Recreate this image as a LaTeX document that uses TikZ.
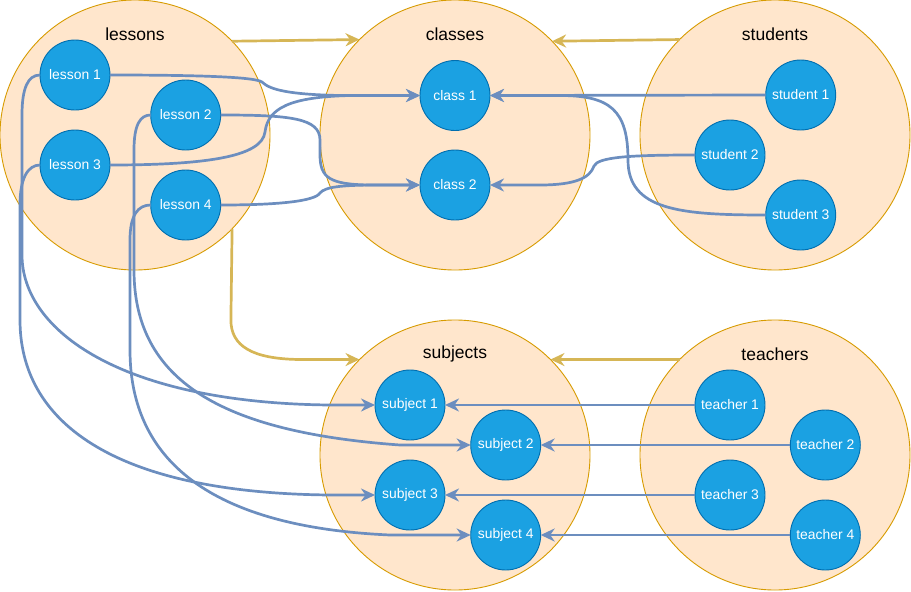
\documentclass[tikz,border=0pt]{standalone}
\usepackage{fontspec}
\setmainfont{Liberation Sans}
\usetikzlibrary{arrows.meta}

\definecolor{groupfill}{HTML}{FFE6CC}
\definecolor{groupline}{HTML}{D79B00}
\definecolor{itemfill}{HTML}{1BA1E2}
\definecolor{itemline}{HTML}{006EAF}
\definecolor{linkblue}{HTML}{6C8EBF}
\definecolor{linkgold}{HTML}{D6B656}

\tikzset{
  group/.style={circle, draw=groupline, fill=groupfill, line width=0.9pt,
    minimum size=270pt, inner sep=0pt, outer sep=0pt},
  grouplabel/.style={font=\fontsize{17.5}{20}\selectfont, text=black, inner sep=0pt},
  item/.style={circle, draw=itemline, fill=itemfill, line width=0.9pt,
    minimum size=70pt, inner sep=0pt, outer sep=0pt,
    font=\fontsize{13.9}{16}\selectfont, text=white},
  tip/.style={-{Stealth[length=14pt, width=13pt, inset=4.5pt]}},
  bluelink/.style={tip, draw=linkblue, line width=2.7pt, line join=round},
  goldlink/.style={tip, draw=linkgold, line width=2.7pt, line join=round},
}

\begin{document}
\begin{tikzpicture}[x=1pt, y=-1pt]
\useasboundingbox (0,0) rectangle (911,592);

% group circles
\node[group] (lessons)  at (135,135) {};
\node[group] (classes)  at (455,135) {};
\node[group] (students) at (775,135) {};
\node[group] (subjects) at (455,455) {};
\node[group] (teachers) at (775,455) {};

\node[grouplabel] (lessonsT)  at (135,34)  {lessons};
\node[grouplabel] (classesT)  at (455,34)  {classes};
\node[grouplabel] (studentsT) at (775,34)  {students};
\node[grouplabel] (subjectsT) at (455,354) {subjects};
\node[grouplabel] (teachersT) at (775,354) {teachers};

% items
\node[item] (l1) at (75,75)    {lesson 1};
\node[item] (l2) at (185.7,115) {lesson 2};
\node[item] (l3) at (75,165)   {lesson 3};
\node[item] (l4) at (185.7,205) {lesson 4};

\node[item] (c1) at (455,95.5) {class 1};
\node[item] (c2) at (455,185)  {class 2};

\node[item] (st1) at (800.7,95)  {student 1};
\node[item] (st2) at (730,155)   {student 2};
\node[item] (st3) at (800.7,215) {student 3};

\node[item] (s1) at (410,405)   {subject 1};
\node[item] (s2) at (505.7,445) {subject 2};
\node[item] (s3) at (410,495)   {subject 3};
\node[item] (s4) at (505.7,535) {subject 4};

\node[item] (t1) at (730,405)   {teacher 1};
\node[item] (t2) at (825.3,445) {teacher 2};
\node[item] (t3) at (730,495)   {teacher 3};
\node[item] (t4) at (825.3,535) {teacher 4};

% relations between the groups
\draw[goldlink] (lessons.44.7) -- (classes.135.3);
\draw[goldlink] (students.135.3) -- (classes.44.7);
\coordinate (gbend) at (230.9,320);
\draw[goldlink] (lessons.-44.7) -- (gbend)
  .. controls (230.9,346) and (252,359) .. (300,359.5) -- (subjects.135);
\draw[goldlink] (teachers.135) -- (subjects.45);

% lessons to classes
\draw[bluelink] (l1.east) .. controls (200,75) and (255,77) .. (262,82)
  .. controls (270,90) and (290,94.5) .. (340,95.5) -- (c1.west);
\draw[bluelink] (l3.east) .. controls (210,165) and (262,156) .. (265,132)
  .. controls (268,108) and (290,97) .. (350,95.5) -- (c1.west);
\draw[bluelink] (l2.east) .. controls (290,115) and (320,118) .. (320,140)
  -- (320,155) .. controls (320,178) and (330,184.5) .. (370,185) -- (c2.west);
\draw[bluelink] (l4.east) .. controls (280,205) and (315,201) .. (320,193)
  .. controls (325,187) and (340,185) .. (380,185) -- (c2.west);

% students to classes
\draw[bluelink] (st1.west) -- (c1.east);
\draw[bluelink] (st2.west) .. controls (630,155) and (598,157) .. (594,166)
  .. controls (590,178) and (575,185) .. (540,185) -- (c2.east);
\draw[bluelink] (st3.west) .. controls (680,215) and (628,210) .. (628,160)
  .. controls (628,110) and (610,95.5) .. (560,95.5) -- (c1.east);

% lessons to subjects
\draw[bluelink] (l1.west) .. controls (28,75) and (22,88) .. (22,115)
  -- (22,255) .. controls (22,330) and (120,403) .. (330,405) -- (s1.west);
\draw[bluelink] (l3.west) .. controls (28,165) and (20,178) .. (20,205)
  -- (20,320) .. controls (20,420) and (110,493) .. (330,495) -- (s3.west);
\draw[bluelink] (l2.west) .. controls (140,115) and (134,125) .. (134,150)
  -- (134,270) .. controls (134,380) and (220,432) .. (400,445) -- (s2.west);
\draw[bluelink] (l4.west) .. controls (138,205) and (130,215) .. (130,240)
  -- (130,350) .. controls (130,460) and (210,527) .. (390,535) -- (s4.west);

% teachers to subjects
\draw[bluelink] (t1.west) -- (s1.east);
\draw[bluelink] (t2.west) -- (s2.east);
\draw[bluelink] (t3.west) -- (s3.east);
\draw[bluelink] (t4.west) -- (s4.east);
\end{tikzpicture}
\end{document}
